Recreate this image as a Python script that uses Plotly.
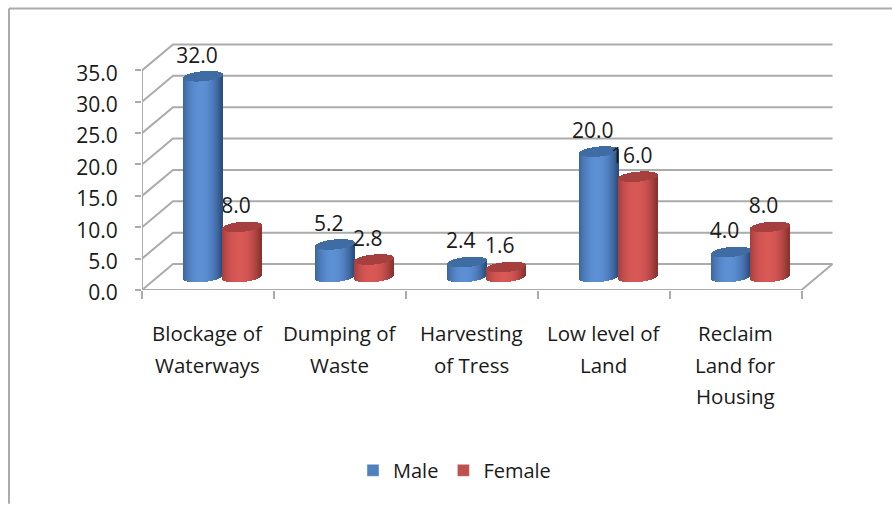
import math
import plotly.graph_objects as go

categories = [["Blockage of", "Waterways"], ["Dumping of", "Waste"], ["Harvesting", "of Tress"],
              ["Low level of", "Land"], ["Reclaim", "Land for", "Housing"]]
male = [32.0, 5.2, 2.4, 20.0, 4.0]
female = [8.0, 2.8, 1.6, 16.0, 8.0]
y_ticks = [0, 5, 10, 15, 20, 25, 30, 35]
series_names = ["Male", "Female"]

# Pixel scale of the plot area and the oblique depth of the floor
PX_X, PX_Y = 131.9, 6.3
W, H = 700, 255
ML, MT = 142, 35.5
DEPTH_X, DEPTH_Y = 31 / PX_X, 26 / PX_Y
MID_X, MID_Y = 15 / PX_X, 13 / PX_Y
CYL_W = 39 / PX_X
CAP_E, CAP_TILT = 5.0 / PX_Y, 1.8 / PX_Y
N_STRIPS = 39
GRID = "#ABABAB"
FONT = "Open Sans"
TEXT = "#1a1a1a"
AXIS_SIZE = 21
CAT_SIZE = 20.5
LEGEND_SIZE = 20


def mix(a, b, f):
    return "rgb(%d,%d,%d)" % tuple(round(a[i] + (b[i] - a[i]) * f) for i in range(3))


def cylinder_traces(values, side, centre_rgb, edge_rgb, cap_rgb):
    xs, body_base, body_h, body_col, cap_base, cap_h = [], [], [], [], [], []
    step = CYL_W / N_STRIPS
    for i, v in enumerate(values):
        cx = i + 0.5 + MID_X + side * CYL_W / 2
        for k in range(N_STRIPS):
            t = (k + 0.5) / N_STRIPS * 2 - 1
            arc = math.sqrt(1 - t * t) * CAP_E
            tilt = t * CAP_TILT
            xs.append(cx + t * CYL_W / 2)
            body_base.append(MID_Y + tilt - arc)
            body_h.append(v)
            body_col.append(mix(centre_rgb, edge_rgb, abs(t + 0.1) ** 2.2))
            cap_base.append(MID_Y + v + tilt - arc)
            cap_h.append(2 * arc)
    common = dict(x=xs, width=[step * 1.25] * len(xs), xaxis="x2", yaxis="y2",
                  showlegend=False, hoverinfo="skip", marker_line_width=0)
    return [
        go.Bar(y=body_h, base=body_base, marker_color=body_col, **common),
        go.Bar(y=cap_h, base=cap_base, marker_color=mix(cap_rgb, cap_rgb, 0), **common),
    ]


fig = go.Figure()

# Back wall, side wall and floor lines
for v in y_ticks:
    fig.add_trace(go.Scatter(x=[0, DEPTH_X, 5 + DEPTH_X], y=[v, v + DEPTH_Y, v + DEPTH_Y], mode="lines",
                             line=dict(color=GRID, width=2), showlegend=False, hoverinfo="skip", cliponaxis=False))
fig.add_trace(go.Scatter(x=[0, 0], y=[0, y_ticks[-1]], mode="lines", line=dict(color=GRID, width=2),
                         showlegend=False, hoverinfo="skip", cliponaxis=False))
fig.add_trace(go.Scatter(x=[0, 5, 5 + DEPTH_X], y=[0, 0, DEPTH_Y], mode="lines", line=dict(color=GRID, width=2),
                         showlegend=False, hoverinfo="skip", cliponaxis=False))


def label_trace(values, side, idx, axes):
    px = []
    py = []
    txt = []
    for i in idx:
        v = values[i]
        px.append(i + 0.5 + MID_X + side * CYL_W / 2 - 6.5 / PX_X)
        py.append(v + MID_Y + CAP_E + 14 / PX_Y)
        txt.append("%.1f" % v)
    return go.Scatter(x=px, y=py, text=txt, mode="text", textposition="middle center",
                      textfont=dict(family=FONT, size=AXIS_SIZE, color=TEXT), showlegend=False,
                      hoverinfo="skip", cliponaxis=False, xaxis=axes[0], yaxis=axes[1])


# The first female label sits behind the tall male cylinder
fig.add_trace(label_trace(female, 1, [0], ("x", "y")))

BLUE = ((92, 143, 212), (50, 88, 140), (62, 108, 163))
RED = ((216, 88, 86), (150, 56, 54), (166, 64, 62))
fig.add_traces(cylinder_traces(male, -1, *BLUE))
fig.add_traces(cylinder_traces(female, 1, *RED))

fig.add_trace(label_trace(male, -1, range(5), ("x2", "y2")))
fig.add_trace(label_trace(female, 1, range(1, 5), ("x2", "y2")))

# Legend entries
for name, col in zip(series_names, ["#4F81BD", "#C0504D"]):
    fig.add_trace(go.Bar(x=[None], y=[None], name=name, marker_color=col, xaxis="x2", yaxis="y2"))

# Category labels, one annotation per line for the wide line spacing
annotations = []
for i, lines in enumerate(categories):
    for j, line in enumerate(lines):
        annotations.append(dict(x=i + 0.5, y=0, xref="x", yref="y", text=line, showarrow=False,
                                yanchor="middle", xanchor="center", yshift=-(43 + 31.5 * j),
                                font=dict(family=FONT, size=CAT_SIZE, color=TEXT)))

x_range = [0, W / PX_X]
y_range = [0, H / PX_Y]
frame_x = (9 - ML) / W
frame_top = 1 + (MT - 8) / H
frame_bot = 1 - (505 - MT) / H

fig.update_layout(
    width=892, height=505, margin=dict(l=ML, r=892 - ML - W, t=MT, b=505 - MT - H),
    paper_bgcolor="white", plot_bgcolor="white", barmode="overlay", bargap=0,
    font=dict(family=FONT, size=AXIS_SIZE, color=TEXT),
    xaxis=dict(range=x_range, tickvals=[0, 1, 2, 3, 4, 5], ticktext=[""] * 6, ticks="outside", ticklen=8,
               tickcolor=GRID, tickwidth=2, showgrid=False, zeroline=False, showline=False),
    yaxis=dict(range=y_range, tickvals=y_ticks, ticktext=["%.1f" % v for v in y_ticks], ticks="outside", ticklen=6,
               tickcolor=GRID, tickwidth=2, showgrid=False, zeroline=False, showline=False,
               ticklabelstandoff=13, ticklabelshift=3,
               tickfont=dict(family=FONT, size=AXIS_SIZE, color=TEXT)),
    xaxis2=dict(range=x_range, overlaying="x", visible=False),
    yaxis2=dict(range=y_range, overlaying="y", visible=False),
    legend=dict(orientation="h", x=(353 - ML) / W, y=1 - (452 - MT) / H, xanchor="left", yanchor="top",
                font=dict(family=FONT, size=LEGEND_SIZE, color=TEXT), bgcolor="rgba(0,0,0,0)"),
    annotations=annotations,
    shapes=[
        dict(type="line", xref="paper", yref="paper", x0=frame_x, x1=frame_x, y0=frame_top, y1=frame_bot,
             line=dict(color=GRID, width=2)),
        dict(type="line", xref="paper", yref="paper", x0=frame_x, x1=(892 - ML) / W, y0=frame_top, y1=frame_top,
             line=dict(color=GRID, width=2)),
    ],
)

fig.write_html("out.html")
